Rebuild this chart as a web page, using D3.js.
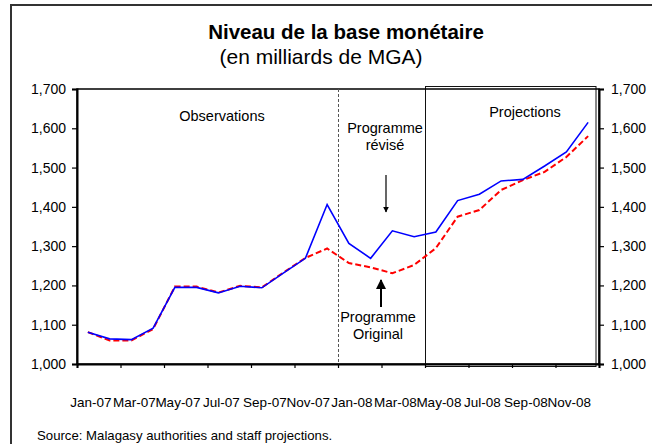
<!DOCTYPE html>
<html>
<head>
<meta charset="utf-8">
<script src="https://cdn.jsdelivr.net/npm/d3@7"></script>
<style>
  body { margin: 0; background: #fff; }
  svg text { font-family: "Liberation Sans", Arial, sans-serif; fill: #000; }
</style>
</head>
<body>
<div id="chart-area"></div>
<script>
var months = ["Jan-07","Feb-07","Mar-07","Apr-07","May-07","Jun-07","Jul-07","Aug-07","Sep-07","Oct-07","Nov-07","Dec-07",
              "Jan-08","Feb-08","Mar-08","Apr-08","May-08","Jun-08","Jul-08","Aug-08","Sep-08","Oct-08","Nov-08","Dec-08"];
var revise   = [1081,1064,1062,1091,1195,1195,1181,1198,1194,1232,1269,1406,1307,1269,1339,1324,1336,1416,1432,1466,1470,1504,1540,1615];
var original = [1081,1060,1060,1089,1197,1197,1182,1199,1195,1233,1270,1294,1257,1246,1231,1252,1295,1375,1392,1443,1468,1489,1527,1580];
var yTicks = [1000,1100,1200,1300,1400,1500,1600,1700];
var xLabels = months.filter((d, i) => i % 2 == 0);

var width = 652, height = 444;
var svg = d3.select("#chart-area").append("svg")
    .attr("width", width)
    .attr("height", height);

// outer frame (cut off on right and bottom)
svg.append("path")
    .attr("d", "M11,444V5H652")
    .attr("fill", "none")
    .attr("stroke", "#333")
    .attr("stroke-width", 2);

var pLeft = 77, pRight = 599, pTop = 89, pBottom = 364;

var x = d3.scaleBand()
    .domain(months)
    .range([pLeft, pRight])
    .padding(0);
var xEdge = d3.scaleLinear()
    .domain([0, months.length])
    .range([pLeft, pRight]);
var y = d3.scaleLinear()
    .domain([1000, 1700])
    .range([pBottom, pTop]);

// projections box
var bx = Math.round(xEdge(16)) + 0.5;
svg.append("rect")
    .attr("x", bx)
    .attr("y", pTop - 2.5)
    .attr("width", Math.round(xEdge(24)) - 3 - bx)
    .attr("height", pBottom - pTop + 5)
    .attr("fill", "none")
    .attr("stroke", "#111")
    .attr("stroke-width", 1);

// plot frame
svg.append("rect")
    .attr("x", pLeft).attr("y", pTop)
    .attr("width", pRight - pLeft).attr("height", pBottom - pTop)
    .attr("fill", "none")
    .attr("stroke", "#000")
    .attr("stroke-width", 1.5);

// vertical dashed separator at Jan-08
svg.append("line")
    .attr("x1", Math.round(xEdge(12)) + 0.5).attr("x2", Math.round(xEdge(12)) + 0.5)
    .attr("y1", pTop).attr("y2", pBottom)
    .attr("stroke", "#555")
    .attr("stroke-width", 1)
    .attr("stroke-dasharray", "3,2");

// axes
var leftAxis = d3.axisLeft(y).tickValues(yTicks).tickSize(5).tickPadding(6).tickFormat(d3.format(","));
svg.append("g").attr("class", "left axis")
    .attr("transform", "translate(" + pLeft + ",0)")
    .call(leftAxis);
var rightAxis = d3.axisRight(y).tickValues(yTicks).tickSize(5).tickPadding(7).tickFormat(d3.format(","));
svg.append("g").attr("class", "right axis")
    .attr("transform", "translate(" + pRight + ",0)")
    .call(rightAxis);
var tickAxis = d3.axisBottom(xEdge).tickValues(d3.range(0, 25, 2)).tickSize(4).tickFormat("");
svg.append("g").attr("class", "bottom axis")
    .attr("transform", "translate(0," + pBottom + ")")
    .call(tickAxis);
var labelAxis = d3.axisBottom(x).tickValues(xLabels).tickSize(0).tickPadding(0);
svg.append("g").attr("class", "label axis")
    .attr("transform", "translate(3,397)")
    .call(labelAxis)
    .call(g => g.select(".domain").remove());

svg.selectAll(".axis .domain").attr("stroke", "#000").attr("stroke-width", 2);
svg.selectAll(".axis line").attr("stroke", "#000").attr("stroke-width", 1.2);
svg.selectAll(".axis text").attr("font-family", "Liberation Sans, Arial, sans-serif");
svg.selectAll(".left text, .right text").attr("font-size", "14px");
svg.selectAll(".label text").attr("font-size", "13.5px");

// lines
var line = d3.line()
    .x((d, i) => x(months[i]) + x.bandwidth() / 2)
    .y(d => y(d));
svg.append("path")
    .datum(original)
    .attr("d", line)
    .attr("fill", "none")
    .attr("stroke", "#ff0000")
    .attr("stroke-width", 2)
    .attr("stroke-dasharray", "6,3");
svg.append("path")
    .datum(revise)
    .attr("d", line)
    .attr("fill", "none")
    .attr("stroke", "#0000ff")
    .attr("stroke-width", 1.6);

// titles
svg.append("text")
    .attr("x", 346).attr("y", 39)
    .attr("text-anchor", "middle")
    .attr("font-size", "20.5px")
    .attr("font-weight", "bold")
    .text("Niveau de la base monétaire");
svg.append("text")
    .attr("x", 321).attr("y", 64)
    .attr("text-anchor", "middle")
    .attr("font-size", "21px")
    .text("(en milliards de MGA)");

// annotations
var notes = svg.append("g").attr("font-size", "14.5px").attr("text-anchor", "middle");
notes.append("text").attr("x", 222).attr("y", 121).text("Observations");
notes.append("text").attr("x", 525).attr("y", 117).text("Projections");
notes.append("text").attr("x", 385).attr("y", 133).text("Programme");
notes.append("text").attr("x", 385).attr("y", 150).text("révisé");
notes.append("text").attr("x", 378).attr("y", 322).text("Programme");
notes.append("text").attr("x", 378).attr("y", 339).text("Original");

// arrows
var defs = svg.append("defs");
defs.append("marker")
    .attr("id", "arrow")
    .attr("viewBox", "0 0 10 10")
    .attr("refX", 9).attr("refY", 5)
    .attr("markerWidth", 5).attr("markerHeight", 5)
    .attr("orient", "auto")
    .append("path")
    .attr("d", "M0,0L10,5L0,10Z")
    .attr("fill", "#000");
svg.append("line")
    .attr("x1", 386).attr("y1", 175).attr("x2", 386).attr("y2", 212)
    .attr("stroke", "#000").attr("stroke-width", 1.2)
    .attr("marker-end", "url(#arrow)");
svg.append("line")
    .attr("x1", 381).attr("y1", 307).attr("x2", 381).attr("y2", 280)
    .attr("stroke", "#000").attr("stroke-width", 2)
    .attr("marker-end", "url(#arrow)");

// source
svg.append("text")
    .attr("x", 37).attr("y", 440)
    .attr("font-size", "13.2px")
    .text("Source: Malagasy authorities and staff projections.");
</script>
</body>
</html>
